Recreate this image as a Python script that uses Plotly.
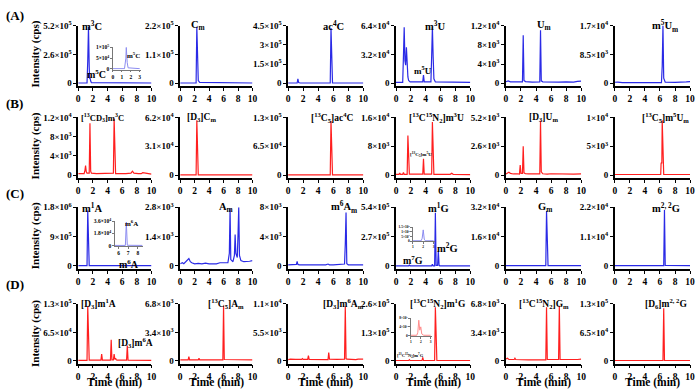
import math
import plotly.graph_objects as go

BLUE = "#2a2ae6"
RED = "#ff1f1f"
BLUE_L = "#8c8cf0"
RED_L = "#ff8c8c"

# ---------------- Row A (blue) ----------------
A1_t = [0, 1.2, 1.3, 1.4, 1.5, 1.55, 1.6, 1.7, 1.8, 10]
A1_y = [2000, 2000, 2.0e5, 5.1e5, 1.5e5, 4.0e4, 5.0e4, 2.0e4, 5000, 2000]
A1_ticks = [0, 2.6e5, 5.2e5]
A1in_t = [0, 1.3, 1.45, 1.5, 1.6, 1.7, 3]
A1in_y = [1000, 1000, 5.0e4, 1.0e5, 3.0e4, 5000, 1000]
A1in_ticks = [0, 5e4, 1e5]

A2_t = [0, 2.2, 2.3, 2.4, 2.5, 2.7, 10]
A2_y = [1000, 1000, 2.15e5, 3.0e4, 1.0e4, 3000, 1000]
A2_ticks = [0, 1.1e5, 2.2e5]

A3_t = [0, 1.2, 1.3, 1.4, 1.6, 4.5, 4.6, 4.7, 5.6, 5.7, 5.8, 5.9, 10]
A3_y = [2000, 2000, 3.5e4, 5000, 2000, 2000, 5000, 2000, 2000, 4.3e5, 5.0e4, 3000, 2000]
A3_ticks = [0, 1.5e5, 3e5, 4.5e5]

A4_t = [0, 0.9, 1.0, 1.1, 1.2, 1.3, 1.4, 1.5, 1.6, 1.7, 1.9, 3.6, 3.7, 3.8,
        4.7, 4.8, 4.9, 5.0, 5.1, 5.3, 10]
A4_y = [1000, 1000, 3.0e4, 6.2e4, 2.5e4, 2.0e4, 4.0e4, 1.5e4, 7000, 3000, 1500,
        1500, 9000, 1500, 1500, 3.0e4, 6.2e4, 3.0e4, 5000, 1500, 1000]
A4_ticks = [0, 3.2e4, 6.4e4]

A5_t = [0, 0.3, 0.6, 1, 1.5, 2.2, 2.3, 2.4, 2.6, 3.5, 4.5, 4.6, 4.7, 4.9,
        5.5, 6, 7, 8, 9, 9.5, 10]
A5_y = [300, 500, 300, 250, 300, 300, 1.0e4, 600, 350, 250, 300, 1.1e4, 500, 300,
        250, 300, 250, 280, 250, 400, 450]
A5_ticks = [0, 4e3, 8e3, 1.2e4]

A6_t = [0, 0.4, 1, 3, 5, 6.2, 6.3, 6.4, 6.5, 6.7, 8, 9, 9.5, 10]
A6_y = [300, 350, 200, 200, 200, 200, 5000, 1.7e4, 1500, 300, 250, 250, 400, 500]
A6_ticks = [0, 8.5e3, 1.7e4]

# ---------------- Row B (red) ----------------
B1_t = [0, 0.8, 0.9, 1.0, 1.1, 1.2, 1.5, 1.6, 1.7, 1.8, 2.5, 4.8, 4.9, 5.0, 5.1,
        6.5, 7.2, 7.4, 7.6, 8.2, 8.6, 8.8, 9.5, 10]
B1_y = [300, 300, 800, 2000, 700, 400, 400, 1.08e4, 800, 400, 300, 400, 1.17e4, 800, 300,
        300, 400, 800, 400, 300, 300, 500, 300, 200]
B1_ticks = [0, 4e3, 8e3, 1.2e4]

B2_t = [0, 2.2, 2.3, 2.4, 2.5, 10]
B2_y = [200, 200, 5.9e4, 1500, 300, 200]
B2_ticks = [0, 3.1e4, 6.2e4]

B3_t = [0, 1.1, 1.2, 1.3, 5.6, 5.7, 5.8, 5.9, 10]
B3_y = [500, 500, 1500, 500, 500, 1.22e5, 3000, 600, 400]
B3_ticks = [0, 6.5e4, 1.3e5]

B4_t = [0, 0.4, 0.5, 0.6, 0.9, 1.0, 1.1, 1.5, 1.6, 1.7, 1.8, 3.6, 3.7, 3.8,
        4.8, 4.9, 5.0, 5.1, 7.3, 7.5, 7.7, 10]
B4_y = [200, 200, 600, 200, 200, 700, 200, 200, 1.1e4, 500, 250, 250, 4500, 250,
        250, 1.47e4, 600, 200, 200, 500, 200, 150]
B4_ticks = [0, 8e3, 1.6e4]

B5_t = [0, 0.2, 0.4, 0.6, 1, 1.5, 1.8, 1.9, 2.0, 2.2, 2.3, 2.4, 2.6, 3, 4.5, 4.6,
        4.7, 4.9, 5.5, 6, 7, 8, 9, 10]
B5_y = [100, 200, 250, 150, 100, 120, 100, 900, 150, 150, 2600, 200, 120, 100, 100, 4900,
        300, 120, 80, 120, 90, 110, 90, 100]
B5_ticks = [0, 2.6e3, 5.2e3]

B6_t = [0, 3, 6.1, 6.15, 6.2, 6.25, 6.3, 6.35, 6.4, 6.5, 10]
B6_y = [100, 100, 100, 2000, 2200, 2000, 9500, 5000, 300, 100, 100]
B6_ticks = [0, 5e3, 1e4]

# ---------------- Row C (blue) ----------------
C1_t = [0, 1.2, 1.3, 1.4, 1.5, 10]
C1_y = [5000, 5000, 1.7e6, 6.0e4, 1.0e4, 5000]
C1_ticks = [0, 9e5, 1.8e6]
C1in_t = [5.6, 6.7, 6.8, 6.9, 8.5]
C1in_y = [300, 300, 3.5e4, 500, 300]
C1in_ticks = [0, 1.8e4, 3.6e4]

C2_t = [0, 0.3, 0.5, 0.8, 1.0, 1.2, 1.4, 1.6, 2, 2.5, 3, 3.5, 4, 4.5, 5, 5.5,
        6.6, 6.8, 6.9, 7.0, 7.3, 7.5, 7.6, 7.7, 7.9, 8.0, 8.1, 8.2, 8.4, 8.8,
        9.2, 9.6, 10]
C2_y = [100, 150, 100, 200, 250, 350, 200, 150, 100, 120, 100, 130, 100, 110, 100, 150,
        150, 600, 2750, 300, 200, 500, 1500, 600, 400, 1500, 2800, 500, 250, 200,
        200, 220, 250]
C2_ticks = [0, 1.4e3, 2.8e3]

C3_t = [0, 0.5, 1, 1.1, 1.2, 1.3, 1.5, 2, 3, 4, 5, 5.3, 5.5, 6, 7, 7.5, 7.6,
        7.7, 7.8, 8, 9, 10]
C3_y = [150, 150, 150, 200, 600, 200, 150, 150, 120, 130, 150, 250, 150, 130, 150, 250, 3000,
        7300, 300, 150, 150, 150]
C3_ticks = [0, 4e3, 8e3]

C4_t = [0, 1.7, 1.8, 1.9, 4.8, 4.9, 5.0, 5.2, 5.3, 5.4, 5.6, 5.7, 5.8, 5.9, 10]
C4_y = [1000, 1000, 8000, 1000, 1000, 1.5e4, 1000, 1000, 4.9e5, 5000, 5000, 1.38e5, 5000,
        1000, 1000]
C4_ticks = [0, 2.7e5, 5.4e5]
C4in_t = [1, 1.8, 1.9, 2.0, 2.1, 2.2, 3]
C4in_y = [300, 300, 3000, 1.2e4, 2000, 300, 300]
C4in_ticks = [0, 5e3, 1e4, 1.5e4]

C5_t = [0, 3.6, 3.7, 3.8, 5.3, 5.4, 5.5, 5.6, 10]
C5_y = [100, 100, 500, 100, 100, 3.0e4, 300, 100, 100]
C5_ticks = [0, 1.6e4, 3.2e4]

C6_t = [0, 6.5, 6.6, 6.7, 10]
C6_y = [100, 100, 2.1e4, 200, 100]
C6_ticks = [0, 1.1e4, 2.2e4]

# ---------------- Row D (red) ----------------
D1_t = [0, 1.2, 1.3, 1.4, 1.5, 3.1, 3.2, 3.3, 4.4, 4.5, 4.6, 4.8, 4.9, 5.0, 5.1,
        5.2, 5.3, 6.6, 6.7, 6.8, 10]
D1_y = [1000, 1000, 1.25e5, 3000, 1500, 1500, 1.5e4, 1500, 1500, 4.8e4, 2000, 2000, 1.5e4,
        3000, 6000, 2000, 1500, 1500, 3.5e4, 1500, 1000]
D1_ticks = [0, 6.5e4, 1.3e5]

D2_t = [0, 1.1, 1.2, 1.3, 2.5, 2.6, 2.7, 5.9, 6.0, 6.1, 10]
D2_y = [100, 100, 500, 100, 100, 300, 100, 100, 6.6e3, 150, 100]
D2_ticks = [0, 3.4e3, 6.8e3]

D3_t = [0, 0.3, 1, 1.8, 1.9, 2, 2.6, 2.7, 2.8, 4, 5.3, 5.4, 5.5, 6.5, 7.5, 7.6,
        7.7, 7.8, 8.5, 9, 9.3, 10]
D3_y = [200, 300, 250, 250, 400, 250, 250, 1000, 250, 200, 200, 1600, 300, 250, 300, 1.05e4,
        400, 300, 200, 200, 300, 300]
D3_ticks = [0, 5.5e3, 1.1e4]

D4_t = [0, 1.7, 1.8, 1.9, 3.5, 3.6, 3.7, 5.2, 5.3, 5.4, 5.5, 10]
D4_y = [1000, 1000, 5000, 1000, 1000, 1.5e4, 1000, 1000, 2.45e5, 3000, 1000, 1000]
D4_ticks = [0, 1.3e5, 2.6e5]
D4in_t = [1, 1.6, 1.7, 1.8, 1.9, 2.0, 2.1, 2.3, 3]
D4in_y = [200, 200, 1500, 7000, 2500, 4000, 800, 200, 200]
D4in_ticks = [0, 4e3, 8e3]

D5_t = [0, 0.2, 0.4, 1.1, 1.2, 1.3, 3, 5.3, 5.4, 5.5, 7.0, 7.1, 7.2, 9, 9.5, 10]
D5_y = [200, 300, 150, 150, 300, 150, 100, 100, 6.4e3, 150, 150, 6.6e3, 150, 100, 150, 200]
D5_ticks = [0, 3.4e3, 6.8e3]

D6_t = [0, 6.4, 6.5, 6.6, 10]
D6_y = [500, 500, 1.2e5, 1000, 500]
D6_ticks = [0, 6.5e4, 1.3e5]

X_TICKS = [0, 2, 4, 6, 8, 10]

# ---------------- layout geometry (pixels) ----------------
W, H = 700, 390
COLS = [(77, 151), (180, 253), (289, 365), (398, 473), (509, 585), (619, 695)]
ROWS = [(19, 81), (113, 175), (205, 268), (304, 365)]
FONT = "Liberation Serif"
TICK_SIZE = 9.5


def px_x(p):
    return p / W


def px_y(p):
    return 1 - p / H


def sci(v):
    if v == 0:
        return "0"
    e = int(math.floor(math.log10(v) + 1e-9))
    m = v / 10 ** e
    return f"{m:g}×10<sup>{e}</sup>"


SUP = lambda s: f"<sup>{s}</sup>"
SUB = lambda s: f"<sub>{s}</sub>"

panels = [
    # row A
    (A1_t, A1_y, A1_ticks, BLUE, [("m" + SUP(3) + "C", 0.2, 1.0, 10.5, "left"),
                                   ("m" + SUP(5) + "C", 2.5, 0.16, 10, "center")]),
    (A2_t, A2_y, A2_ticks, BLUE, [("C" + SUB("m"), 2.4, 1.0, 10.5, "center")]),
    (A3_t, A3_y, A3_ticks, BLUE, [("ac" + SUP(4) + "C", 6.0, 1.0, 10.5, "center")]),
    (A4_t, A4_y, A4_ticks, BLUE, [("m" + SUP(3) + "U", 5.3, 1.0, 10.5, "center"),
                                   ("m" + SUP(5) + "U", 3.6, 0.23, 9, "center")]),
    (A5_t, A5_y, A5_ticks, BLUE, [("U" + SUB("m"), 5.0, 1.0, 10.5, "center")]),
    (A6_t, A6_y, A6_ticks, BLUE, [("m" + SUP(5) + "U" + SUB("m"), 6.7, 1.0, 10.5, "center")]),
    # row B
    (B1_t, B1_y, B1_ticks, RED, [("[" + SUP(13) + "CD" + SUB(3) + "]m" + SUP(3) + "C", 0.05, 1.0, 8.5, "left")]),
    (B2_t, B2_y, B2_ticks, RED, [("[D" + SUB(3) + "]C" + SUB("m"), 2.9, 1.0, 9.5, "center")]),
    (B3_t, B3_y, B3_ticks, RED, [("[" + SUP(13) + "C" + SUB(5) + "]ac" + SUP(4) + "C", 5.8, 1.0, 9.5, "center")]),
    (B4_t, B4_y, B4_ticks, RED, [("[" + SUP(13) + "C" + SUP(15) + "N" + SUB(2) + "]m" + SUP(3) + "U", 5.4, 1.0, 9.5, "center"),
                                  ("[" + SUP(13) + "C" + SUB(5) + "]m" + SUP(5) + "U", 3.3, 0.36, 5, "center")]),
    (B5_t, B5_y, B5_ticks, RED, [("[D" + SUB(3) + "]U" + SUB("m"), 5.0, 1.0, 9.5, "center")]),
    (B6_t, B6_y, B6_ticks, RED, [("[" + SUP(13) + "C" + SUB(5) + "]m" + SUP(5) + "U" + SUB("m"), 6.8, 1.0, 9.5, "center")]),
    # row C
    (C1_t, C1_y, C1_ticks, BLUE, [("m" + SUP(1) + "A", 0.3, 1.0, 10.5, "left"),
                                   ("m" + SUP(6) + "A", 6.9, 0.03, 10, "center")]),
    (C2_t, C2_y, C2_ticks, BLUE, [("A" + SUB("m"), 6.3, 1.0, 10.5, "center")]),
    (C3_t, C3_y, C3_ticks, BLUE, [("m" + SUP(6) + "A" + SUB("m"), 7.4, 1.0, 10.5, "center")]),
    (C4_t, C4_y, C4_ticks, BLUE, [("m" + SUP(1) + "G", 5.7, 1.0, 10.5, "center"),
                                   ("m" + SUP(2) + "G", 6.9, 0.31, 10.5, "center"),
                                   ("m" + SUP(7) + "G", 2.3, 0.10, 10, "center")]),
    (C5_t, C5_y, C5_ticks, BLUE, [("G" + SUB("m"), 5.2, 1.0, 10.5, "center")]),
    (C6_t, C6_y, C6_ticks, BLUE, [("m" + SUP("2, 2") + "G", 6.8, 1.0, 10.5, "center")]),
    # row D
    (D1_t, D1_y, D1_ticks, RED, [("[D" + SUB(3) + "]m" + SUP(1) + "A", 0.05, 1.0, 9.5, "left"),
                                  ("[D" + SUB(3) + "]m" + SUP(6) + "A", 7.8, 0.32, 9.5, "center")]),
    (D2_t, D2_y, D2_ticks, RED, [("[" + SUP(13) + "C" + SUB(5) + "]A" + SUB("m"), 6.3, 1.0, 9.5, "center")]),
    (D3_t, D3_y, D3_ticks, RED, [("[D" + SUB(3) + "]m" + SUP(6) + "A" + SUB("m"), 7.4, 1.0, 9.5, "center")]),
    (D4_t, D4_y, D4_ticks, RED, [("[" + SUP(13) + "C" + SUP(15) + "N" + SUB(2) + "]m" + SUP(1) + "G", 5.6, 1.0, 9.5, "center"),
                                  ("[" + SUP(13) + "C" + SUP(15) + "N" + SUB(2) + "]m" + SUP(7) + "G", 1.9, 0.09, 4.5, "center")]),
    (D5_t, D5_y, D5_ticks, RED, [("[" + SUP(13) + "C" + SUP(15) + "N" + SUB(2) + "]G" + SUB("m"), 5.0, 1.0, 9.5, "center")]),
    (D6_t, D6_y, D6_ticks, RED, [("[D" + SUB(6) + "]m" + SUP("2, 2") + "G", 6.8, 1.0, 9.5, "center")]),
]

fig = go.Figure()
layout = {}
annotations = []


def axis_style(size):
    return dict(showline=True, linecolor="black", linewidth=1.5, ticks="outside",
                ticklen=3, tickwidth=1, tickcolor="black", showgrid=False,
                zeroline=False, tickfont=dict(family=FONT, size=size, color="black", weight="bold"),
                fixedrange=True)


for i, (t, y, ticks, color, labels) in enumerate(panels):
    n = i + 1
    r, c = divmod(i, 6)
    xk = "xaxis" if n == 1 else f"xaxis{n}"
    yk = "yaxis" if n == 1 else f"yaxis{n}"
    xr = "x" if n == 1 else f"x{n}"
    yr = "y" if n == 1 else f"y{n}"
    ymax = ticks[-1]
    x0, x1 = COLS[c]
    y0, y1 = ROWS[r]
    fig.add_trace(go.Scatter(x=t, y=y, mode="lines", line=dict(color=color, width=1.2),
                             xaxis=xr, yaxis=yr, showlegend=False, hoverinfo="skip"))
    layout[xk] = dict(domain=[px_x(x0), px_x(x1)], range=[0, 10], tickvals=X_TICKS,
                      anchor=yr, **axis_style(TICK_SIZE))
    layout[yk] = dict(domain=[px_y(y1), px_y(y0)], range=[-0.05 * ymax, ymax],
                      tickvals=ticks, ticktext=[sci(v) for v in ticks],
                      anchor=xr, **axis_style(TICK_SIZE - 0.5))
    for (txt, lx, ly, size, xa) in labels:
        annotations.append(dict(text=txt, x=lx, y=ly * ymax, xref=xr, yref=yr,
                                xanchor=xa, yanchor="middle", showarrow=False,
                                font=dict(family=FONT, size=size, color="black", weight="bold")))

# ---------------- insets ----------------
insets = [
    (A1in_t, A1in_y, A1in_ticks, BLUE_L, (112, 140, 41, 64), [0, 3.1], [0, 1, 2, 3],
     ("m" + SUP(5) + "C", 2.3, 0.62, 7), 5.5),
    (C1in_t, C1in_y, C1in_ticks, BLUE_L, (114, 142, 219, 245), [5.6, 8.5], [6, 7, 8],
     ("m" + SUP(6) + "A", 7.35, 0.9, 7), 5.5),
    (C4in_t, C4in_y, C4in_ticks, BLUE_L, (415, 437, 225, 240), [1, 3.1], [1, 2, 3],
     ("m" + SUP(7) + "G", 2.5, 1.05, 4), 3.5),
    (D4in_t, D4in_y, D4in_ticks, RED_L, (413, 434, 318, 337), [1, 3.1], [1, 2, 3],
     ("[" + SUP(13) + "C" + SUP(15) + "N" + SUB(2) + "]m" + SUP(7) + "G", 2.4, 1.05, 3.5), 3.5),
]

for k, (t, y, ticks, color, box, xrng, xt, lab, fs) in enumerate(insets):
    n = 25 + k
    xr, yr = f"x{n}", f"y{n}"
    bx0, bx1, by0, by1 = box
    ymax = ticks[-1]
    fig.add_trace(go.Scatter(x=t, y=y, mode="lines", line=dict(color=color, width=1),
                             xaxis=xr, yaxis=yr, showlegend=False, hoverinfo="skip"))
    st = axis_style(fs)
    st.update(linecolor="#777777", linewidth=1, ticklen=1.5, tickcolor="#777777")
    layout[f"xaxis{n}"] = dict(domain=[px_x(bx0), px_x(bx1)], range=xrng, tickvals=xt,
                               anchor=yr, **st)
    layout[f"yaxis{n}"] = dict(domain=[px_y(by1), px_y(by0)], range=[-0.03 * ymax, ymax * 1.02],
                               tickvals=ticks, ticktext=[sci(v) for v in ticks], anchor=xr, **st)
    txt, lx, ly, lsize = lab
    annotations.append(dict(text=txt, x=lx, y=ly * ymax, xref=xr, yref=yr, xanchor="center",
                            yanchor="middle", showarrow=False,
                            font=dict(family=FONT, size=lsize, color="black", weight="bold")))

# ---------------- panel letters, axis titles ----------------
for letter, ypix in zip(["(A)", "(B)", "(C)", "(D)"], [9, 99, 191, 284]):
    annotations.append(dict(text=letter, x=px_x(2), y=px_y(ypix), xref="paper", yref="paper",
                            xanchor="left", yanchor="middle", showarrow=False,
                            font=dict(family=FONT, size=13, color="black", weight="bold")))

for ypix in [48, 142, 234, 334]:
    annotations.append(dict(text="Intensity (cps)", x=px_x(34), y=px_y(ypix), xref="paper",
                            yref="paper", xanchor="center", yanchor="middle", textangle=-90,
                            showarrow=False,
                            font=dict(family=FONT, size=11, color="black", weight="bold")))

for (x0, x1) in COLS:
    annotations.append(dict(text="Time (min)", x=px_x((x0 + x1) / 2), y=px_y(384), xref="paper",
                            yref="paper", xanchor="center", yanchor="middle", showarrow=False,
                            font=dict(family=FONT, size=11.5, color="black", weight="bold")))

fig.update_layout(
    width=W, height=H, margin=dict(l=0, r=0, t=0, b=0),
    paper_bgcolor="white", plot_bgcolor="rgba(0,0,0,0)",
    font=dict(family=FONT, color="black", weight="bold"),
    showlegend=False, annotations=annotations, **layout,
)

fig.write_html("out.html", config={"displayModeBar": False},
               post_script="document.body.style.margin='0';document.body.style.padding='0';")
